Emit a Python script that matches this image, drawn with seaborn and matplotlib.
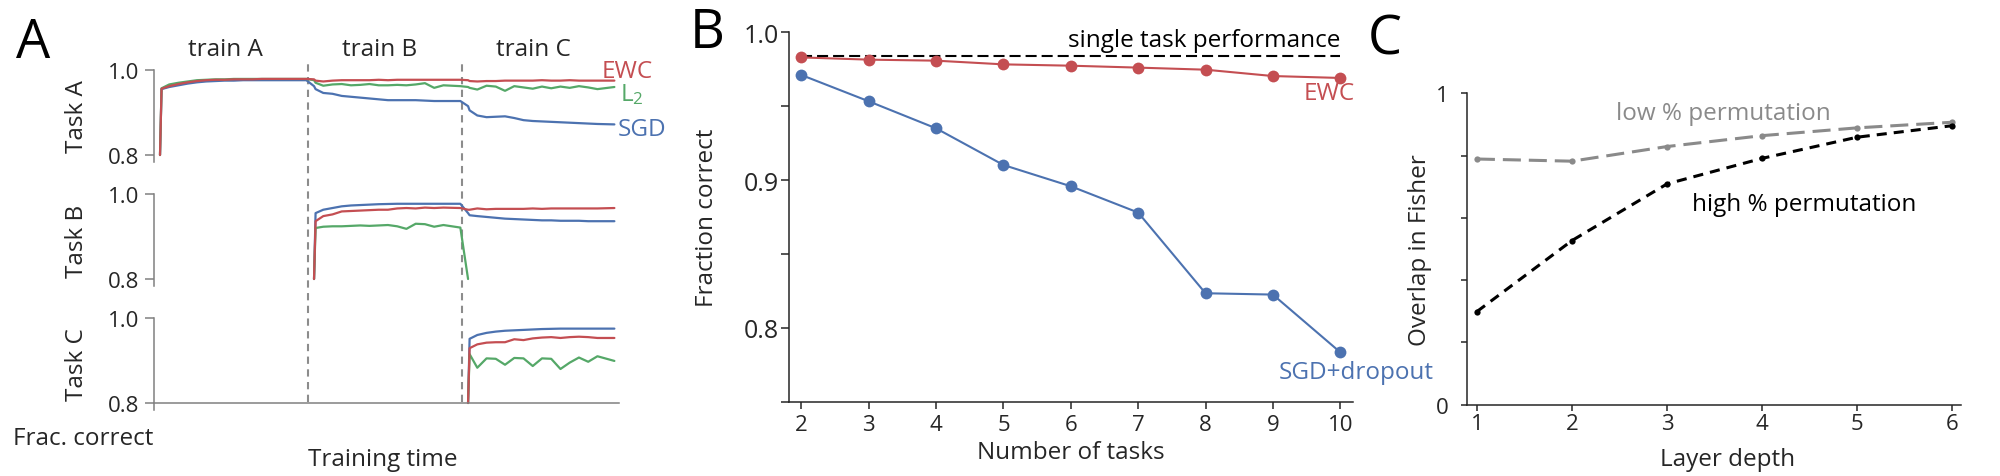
import numpy as np
import pandas as pd
import matplotlib
matplotlib.use("Agg")
import matplotlib.pyplot as plt
import seaborn as sns
from matplotlib.transforms import blended_transform_factory

# ---------------- data : panel A (training curves) ----------------
phase_names = ["train A", "train B", "train C"]
phase_starts = [0, 20, 40]
phase_bounds = [19.2, 39.2]
phase_offsets = [0, 0.2, 1.2, 2.4, 3.6, 4.8, 6.0, 7.2, 8.4, 9.6, 10.8, 12.0,
                 13.2, 14.4, 15.6, 16.8, 19.0]

# Task A accuracy over phases A, B, C
taskA_ewc = [0.800, 0.956, 0.962, 0.967, 0.971, 0.974, 0.976, 0.977, 0.977, 0.978, 0.978, 0.978, 0.979, 0.979, 0.979, 0.979, 0.979,
             0.978, 0.975, 0.973, 0.975, 0.976, 0.976, 0.976, 0.976, 0.977, 0.976, 0.977, 0.977, 0.977, 0.977, 0.977, 0.977, 0.977,
             0.976, 0.974, 0.973, 0.974, 0.974, 0.975, 0.975, 0.975, 0.975, 0.976, 0.975, 0.975, 0.976, 0.975, 0.975, 0.975, 0.975]
taskA_l2 = [0.800, 0.957, 0.966, 0.970, 0.973, 0.976, 0.977, 0.978, 0.978, 0.979, 0.979, 0.979, 0.979, 0.979, 0.979, 0.979, 0.979,
            0.976, 0.970, 0.963, 0.966, 0.967, 0.964, 0.965, 0.967, 0.964, 0.964, 0.965, 0.964, 0.966, 0.969, 0.958, 0.964, 0.962,
            0.960, 0.958, 0.954, 0.963, 0.961, 0.951, 0.962, 0.959, 0.956, 0.961, 0.957, 0.961, 0.958, 0.962, 0.959, 0.955, 0.960]
taskA_sgd = [0.800, 0.955, 0.960, 0.964, 0.968, 0.971, 0.973, 0.974, 0.975, 0.975, 0.976, 0.976, 0.976, 0.976, 0.976, 0.976, 0.976,
             0.962, 0.955, 0.946, 0.944, 0.939, 0.937, 0.935, 0.933, 0.931, 0.929, 0.929, 0.929, 0.929, 0.928, 0.927, 0.927, 0.927,
             0.915, 0.905, 0.893, 0.889, 0.890, 0.891, 0.887, 0.882, 0.880, 0.879, 0.878, 0.877, 0.876, 0.875, 0.874, 0.873, 0.872]
# Task B accuracy over phases B, C (L2 falls off the scale when C starts)
taskB_ewc = [0.800, 0.936, 0.948, 0.952, 0.959, 0.960, 0.961, 0.962, 0.963, 0.963, 0.966, 0.967, 0.966, 0.968, 0.967, 0.968, 0.967,
             0.963, 0.963, 0.966, 0.964, 0.965, 0.965, 0.965, 0.965, 0.966, 0.965, 0.966, 0.966, 0.966, 0.966, 0.966, 0.966, 0.967]
taskB_l2 = [0.800, 0.920, 0.923, 0.924, 0.924, 0.925, 0.926, 0.925, 0.926, 0.927, 0.924, 0.918, 0.930, 0.929, 0.923, 0.927, 0.921,
            0.800]
taskB_sgd = [0.800, 0.955, 0.963, 0.967, 0.971, 0.973, 0.974, 0.975, 0.976, 0.9765, 0.977, 0.977, 0.977, 0.977, 0.977, 0.977, 0.977,
             0.955, 0.950, 0.948, 0.946, 0.944, 0.942, 0.941, 0.940, 0.939, 0.938, 0.938, 0.937, 0.937, 0.937, 0.936, 0.936, 0.936]
# Task C accuracy over phase C
taskC_ewc = [0.800, 0.929, 0.938, 0.942, 0.943, 0.943, 0.950, 0.948, 0.952, 0.954, 0.955, 0.953, 0.955, 0.956, 0.955, 0.953, 0.953]
taskC_l2 = [0.800, 0.915, 0.883, 0.905, 0.904, 0.890, 0.906, 0.905, 0.887, 0.905, 0.904, 0.880, 0.895, 0.907, 0.897, 0.910, 0.899]
taskC_sgd = [0.800, 0.951, 0.960, 0.965, 0.968, 0.970, 0.971, 0.972, 0.973, 0.974, 0.9745, 0.975, 0.975, 0.975, 0.975, 0.975, 0.975]

# ---------------- data : panel B ----------------
n_tasks = [2, 3, 4, 5, 6, 7, 8, 9, 10]
ewc_frac = [0.983, 0.9815, 0.9808, 0.9783, 0.9774, 0.9761, 0.9747, 0.9704, 0.9691]
sgd_frac = [0.9711, 0.9533, 0.935, 0.9102, 0.8958, 0.878, 0.8234, 0.8225, 0.7835]
single_task = 0.9842

# ---------------- data : panel C ----------------
layers = [1, 2, 3, 4, 5, 6]
low_perm = [0.789, 0.782, 0.829, 0.864, 0.889, 0.907]
high_perm = [0.299, 0.527, 0.709, 0.791, 0.859, 0.896]

# ---------------- style ----------------
sns.set_theme(style="ticks")
plt.rcParams["font.family"] = ["Open Sans", "DejaVu Sans"]
plt.rcParams["mathtext.fontset"] = "custom"
plt.rcParams["mathtext.rm"] = "Open Sans"
plt.rcParams["mathtext.it"] = "Open Sans:italic"
plt.rcParams["mathtext.bf"] = "Open Sans:bold"

deep = sns.color_palette("deep")
RED, BLUE, GREEN = deep[3], deep[0], deep[2]
DARK = "#262626"
GREY_SP = "0.5"

W, H = 2000, 477
fig = plt.figure(figsize=(W / 100, H / 100), dpi=100)


def rect(x0, y0, x1, y1):
    return [x0 / W, 1 - y1 / H, (x1 - x0) / W, (y1 - y0) / H]


TICK = 16
LAB = 17.5

# ================= Panel A =================
times = [np.array(phase_offsets) + s for s in phase_starts]
tA = np.concatenate(times)
tB = np.concatenate(times[1:])
tC = times[2]
xlimA = (-0.78, 59.6)

axo = fig.add_axes(rect(154, 60, 619, 403))
axo.set_xlim(*xlimA)
axo.set_ylim(0, 1)
axo.axis("off")
for b in phase_bounds:
    axo.axvline(b, color="0.55", lw=1.5, ls=(0, (3.5, 2.6)))
tr = blended_transform_factory(axo.transData, fig.transFigure)
for s, name in zip(phase_starts, phase_names):
    axo.text(s + 8.5, 1 - 50 / H, name, transform=tr, ha="center", va="center",
             fontsize=LAB, color=DARK)

task_specs = [
    ("Task A", tA, taskA_sgd, tA, taskA_l2, tA, taskA_ewc),
    ("Task B", tB, taskB_sgd, tB[:len(taskB_l2)], taskB_l2, tB, taskB_ewc),
    ("Task C", tC, taskC_sgd, tC, taskC_l2, tC, taskC_ewc),
]
tops = [71, 195, 319]
axesA = []
for i, (lab, ts, sgd, tl, l2, te, ewc) in enumerate(task_specs):
    top = tops[i]
    ax = fig.add_axes(rect(154, top, 619, top + 92))
    ax.set_facecolor("none")
    df = pd.concat([
        pd.DataFrame({"time": ts, "acc": sgd, "method": "SGD"}),
        pd.DataFrame({"time": tl, "acc": l2, "method": "L2"}),
        pd.DataFrame({"time": te, "acc": ewc, "method": "EWC"}),
    ], ignore_index=True)
    sns.lineplot(data=df, x="time", y="acc", hue="method",
                 hue_order=["SGD", "L2", "EWC"],
                 palette={"SGD": BLUE, "L2": GREEN, "EWC": RED},
                 estimator=None, sort=False, legend=False, lw=1.6, ax=ax)
    ax.set_xlim(*xlimA)
    ax.set_ylim(1.0 - 0.2 * 92 / 85, 1.0)
    ax.set_yticks([0.8, 1.0])
    ax.set_yticklabels(["0.8", "1.0"])
    ax.set_xticks([])
    ax.set_xlabel("")
    ax.set_ylabel(lab, fontsize=LAB, color=DARK)
    ax.yaxis.set_label_coords(-0.165, 0.5)
    ax.yaxis.label.set_va("center")
    for sp in ["top", "right"]:
        ax.spines[sp].set_visible(False)
    ax.spines["left"].set_color(GREY_SP)
    ax.spines["left"].set_linewidth(1.1)
    if i < 2:
        ax.spines["bottom"].set_visible(False)
    else:
        ax.spines["bottom"].set_position(("data", 0.8))
        ax.spines["bottom"].set_color(GREY_SP)
        ax.spines["bottom"].set_linewidth(1.1)
    ax.tick_params(axis="y", direction="out", length=6.3, width=1.1,
                   color=GREY_SP, labelcolor=DARK, labelsize=TICK, pad=4)
    axesA.append(ax)

axA = axesA[0]
axA.text(57.4, 0.983, "EWC", color=RED, fontsize=LAB, ha="left", va="baseline", clip_on=False)
axA.text(59.7, 0.9286, r"L$_\mathregular{2}$", color=GREEN, fontsize=LAB, ha="left", va="baseline", clip_on=False)
axA.text(59.5, 0.8465, "SGD", color=BLUE, fontsize=LAB, ha="left", va="baseline", clip_on=False)

fig.text(83 / W, 1 - 439 / H, "Frac. correct", fontsize=LAB, ha="center", va="center", color=DARK)
fig.text(383 / W, 1 - 460 / H, "Training time", fontsize=LAB, ha="center", va="center", color=DARK)

# ================= Panel B =================
axB = fig.add_axes(rect(788.6, 33.3, 1353, 402.7))
axB.hlines(single_task, n_tasks[0], n_tasks[-1], colors="black", lw=1.5,
           linestyles=(0, (5.3, 2.4)), zorder=1)
sns.lineplot(x=n_tasks, y=sgd_frac, color=BLUE, lw=1.5, marker="o", markersize=8.5,
             markeredgewidth=0, ax=axB, zorder=3)
sns.lineplot(x=n_tasks, y=ewc_frac, color=RED, lw=1.5, marker="o", markersize=8.5,
             markeredgewidth=0, ax=axB, zorder=3)
axB.set_xlim(1.81, 10.19)
axB.set_ylim(0.75, 1.0)
axB.set_xticks(n_tasks)
axB.set_yticks([0.8, 0.9, 1.0])
axB.set_yticklabels(["0.8", "0.9", "1.0"])
axB.set_yticks([0.75, 0.85, 0.95], minor=True)
axB.set_xlabel("Number of tasks", fontsize=LAB, color=DARK)
axB.xaxis.set_label_coords(0.5, -0.136)
axB.xaxis.label.set_va("center")
axB.set_ylabel("Fraction correct", fontsize=LAB, color=DARK)
axB.yaxis.set_label_coords(-0.1446, 0.5)
axB.yaxis.label.set_va("center")
for sp in ["top", "right"]:
    axB.spines[sp].set_visible(False)
for sp in ["left", "bottom"]:
    axB.spines[sp].set_color(DARK)
    axB.spines[sp].set_linewidth(1.1)
axB.tick_params(axis="y", which="both", direction="out", length=5.5, width=1.1,
                color=DARK, labelcolor=DARK, labelsize=18, pad=1.5)
axB.tick_params(axis="x", direction="out", length=5, width=1.1,
                color=DARK, labelcolor=DARK, labelsize=TICK, pad=4)
axB.text(10.0, 0.991, "single task performance", fontsize=LAB, ha="right",
         va="baseline", color="black")
axB.text(9.456, 0.9549, "EWC", fontsize=LAB, ha="left", va="baseline", color=RED, clip_on=False)
axB.text(9.085, 0.766, "SGD+dropout", fontsize=LAB, ha="left", va="baseline", color=BLUE, clip_on=False)

# ================= Panel C =================
axC = fig.add_axes(rect(1467, 94.3, 1961, 405.7))
LOWC = "#8a8a8a"
sns.lineplot(x=layers, y=low_perm, color=LOWC, lw=2.2, marker="o", markersize=4.5,
             markeredgewidth=0, ax=axC, linestyle=(0, (5.9, 2.6)))
sns.lineplot(x=layers, y=high_perm, color="black", lw=2.2, marker="o", markersize=4.5,
             markeredgewidth=0, ax=axC, linestyle=(0, (3.3, 2.3)))
axC.set_xlim(0.896, 6.093)
axC.set_ylim(0, 1)
axC.set_xticks(layers)
axC.set_yticks([0, 1])
axC.set_yticklabels(["0", "1"])
axC.set_yticks([0.2, 0.4, 0.6, 0.8], minor=True)
axC.set_xlabel("Layer depth", fontsize=LAB, color=DARK)
axC.xaxis.set_label_coords(0.528, -0.174)
axC.xaxis.label.set_va("center")
axC.set_ylabel("Overlap in Fisher", fontsize=LAB, color=DARK)
axC.yaxis.set_label_coords(-0.096, 0.5)
axC.yaxis.label.set_va("center")
for sp in ["top", "right"]:
    axC.spines[sp].set_visible(False)
for sp in ["left", "bottom"]:
    axC.spines[sp].set_color(DARK)
    axC.spines[sp].set_linewidth(1.1)
axC.tick_params(axis="y", which="both", direction="out", length=4.3, width=1.1,
                color=DARK, labelcolor=DARK, labelsize=TICK, pad=9)
axC.tick_params(axis="x", direction="out", length=4.3, width=1.1,
                color=DARK, labelcolor=DARK, labelsize=TICK, pad=2)
axC.text(2.464, 0.917, "low % permutation", fontsize=LAB, ha="left", va="baseline", color=LOWC)
axC.text(3.264, 0.626, "high % permutation", fontsize=LAB, ha="left", va="baseline", color="black")

# ================= panel letters =================
for letter, (x, y) in zip("ABC", [(33.5, 44), (707, 34), (1385, 40)]):
    fig.text(x / W, 1 - y / H, letter, fontsize=39, ha="center", va="center", color="black")

fig.savefig("out.png", dpi=100)
